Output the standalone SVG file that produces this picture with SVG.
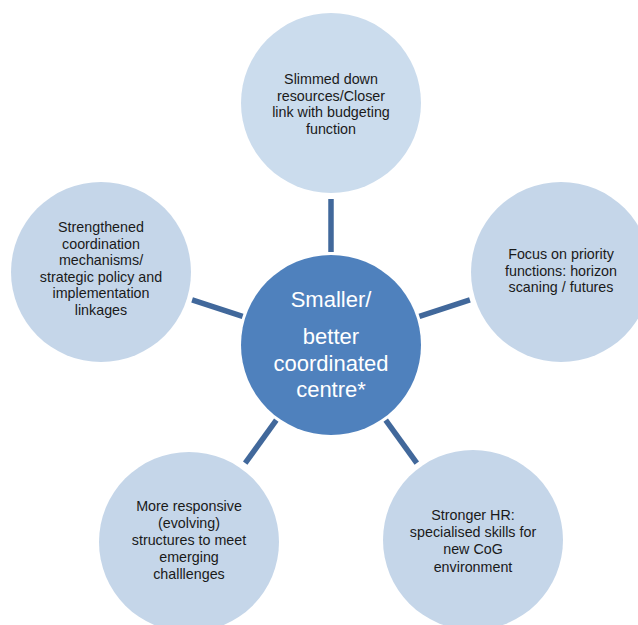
<svg xmlns="http://www.w3.org/2000/svg" width="638" height="625" viewBox="0 0 638 625">
  <style>
    .outer { fill: #C5D6E9; }
    .outer.top { fill: #CBDCED; }
    .hub { fill: #4F81BD; }
    .spoke { stroke: #41689B; stroke-width: 5.5; stroke-linecap: butt; fill: none; }
    .lbl { font-family: "Liberation Sans", Arial, sans-serif; font-size: 14.3px; fill: #1A1A1A; text-anchor: middle; }
    .hub-lbl { font-family: "Liberation Sans", Arial, sans-serif; font-size: 22px; fill: #FFFFFF; text-anchor: middle; }
  </style>
  <rect width="638" height="625" fill="#FFFFFF"/>

  <!-- spokes from the hub to each outer circle -->
  <g id="connectors">
    <line class="spoke" x1="331" y1="252" x2="331" y2="199"/>
    <line class="spoke" x1="419.4" y1="316.3" x2="469.9" y2="299.9"/>
    <line class="spoke" x1="242.6" y1="316.3" x2="192.1" y2="299.9"/>
    <line class="spoke" x1="276.3" y1="420.2" x2="245.2" y2="463.1"/>
    <line class="spoke" x1="385.7" y1="420.2" x2="416.8" y2="463.1"/>
  </g>

  <g id="node-top">
    <circle class="outer top" cx="331" cy="103" r="90"/>
    <text class="lbl" x="331" y="84">Slimmed down</text>
    <text class="lbl" x="331" y="100.5">resources/Closer</text>
    <text class="lbl" x="331" y="117">link with budgeting</text>
    <text class="lbl" x="331" y="133.5">function</text>
  </g>

  <g id="node-right">
    <circle class="outer" cx="561" cy="272" r="90"/>
    <text class="lbl" x="561" y="259">Focus on priority</text>
    <text class="lbl" x="561" y="275.5">functions: horizon</text>
    <text class="lbl" x="561" y="292">scaning / futures</text>
  </g>

  <g id="node-left">
    <circle class="outer" cx="101" cy="272" r="90"/>
    <text class="lbl" x="101" y="232">Strengthened</text>
    <text class="lbl" x="101" y="248.5">coordination</text>
    <text class="lbl" x="101" y="265">mechanisms/</text>
    <text class="lbl" x="101" y="281.5">strategic policy and</text>
    <text class="lbl" x="101" y="298">implementation</text>
    <text class="lbl" x="101" y="314.5">linkages</text>
  </g>

  <g id="node-bottom-left">
    <circle class="outer" cx="189" cy="542" r="90"/>
    <text class="lbl" x="189" y="511">More responsive</text>
    <text class="lbl" x="189" y="528">(evolving)</text>
    <text class="lbl" x="189" y="545">structures to meet</text>
    <text class="lbl" x="189" y="562">emerging</text>
    <text class="lbl" x="189" y="579">challlenges</text>
  </g>

  <g id="node-bottom-right">
    <circle class="outer" cx="473" cy="540" r="90"/>
    <text class="lbl" x="473" y="519.5">Stronger HR:</text>
    <text class="lbl" x="473" y="537">specialised skills for</text>
    <text class="lbl" x="473" y="554">new CoG</text>
    <text class="lbl" x="473" y="571.5">environment</text>
  </g>

  <g id="node-hub">
    <circle class="hub" cx="331" cy="345" r="90"/>
    <text class="hub-lbl" x="331" y="307">Smaller/</text>
    <text class="hub-lbl" x="331" y="344">better</text>
    <text class="hub-lbl" x="331" y="370.5">coordinated</text>
    <text class="hub-lbl" x="331" y="397">centre*</text>
  </g>
</svg>
